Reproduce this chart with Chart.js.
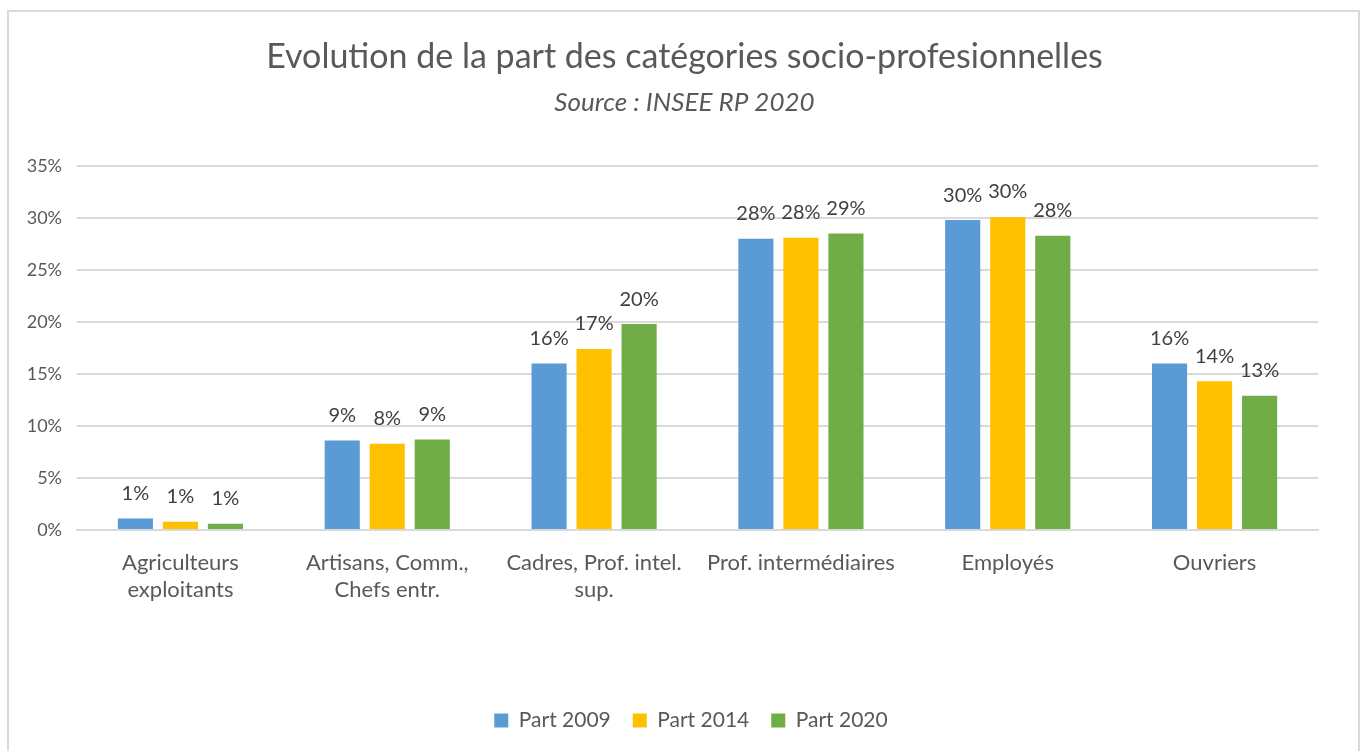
<!DOCTYPE html>
<html>
<head>
<meta charset="utf-8">
<script src="https://cdn.jsdelivr.net/npm/chart.js@4/dist/chart.umd.min.js"></script>
<style>
  body { margin: 0; background: #fff; }
  #wrap { position: relative; width: 1369px; height: 751px; overflow: hidden; }
  #frame { position: absolute; left: 7px; top: 10px; width: 1353px; height: 760px; border: 2px solid #d9d9d9; box-sizing: border-box; }
  #chart { position: absolute; left: 0; top: 0; }
</style>
</head>
<body>
<div id="wrap">
  <div id="frame"></div>
  <canvas id="chart" width="1369" height="751"></canvas>
</div>
<script>
var categories = [
  ["Agriculteurs", "exploitants"],
  ["Artisans, Comm.,", "Chefs entr."],
  ["Cadres, Prof. intel.", "sup."],
  "Prof. intermédiaires",
  "Employés",
  "Ouvriers"
];
var part2009 = [1.1, 8.6, 16.0, 28.0, 29.8, 16.0];
var part2014 = [0.8, 8.3, 17.4, 28.1, 30.1, 14.3];
var part2020 = [0.6, 8.7, 19.8, 28.5, 28.3, 12.9];
var yTicks = [0, 5, 10, 15, 20, 25, 30, 35];

var chartTitle = 'Evolution de la part des catégories socio-profesionnelles';
var chartSubtitle = 'Source : INSEE RP 2020';

var FONT = "Lato, 'Open Sans', sans-serif";

// labels above the bars, like Excel data labels
var barLabels = {
  id: 'barLabels',
  afterDatasetsDraw: function(chart) {
    var ctx = chart.ctx;
    ctx.save();
    ctx.font = '20px ' + FONT;
    ctx.fillStyle = '#404040';
    ctx.textAlign = 'center';
    ctx.textBaseline = 'middle';
    chart.data.datasets.forEach(function(ds, i) {
      chart.getDatasetMeta(i).data.forEach(function(bar, j) {
        ctx.fillText(Math.round(ds.data[j]) + '%', bar.x, bar.y - 25);
      });
    });
    ctx.restore();
  }
};

// title + subtitle centred on the whole frame (not on the plot)
var frameTitle = {
  id: 'frameTitle',
  afterLayout: function(chart) {
    // legend is centred on the frame too in the original
    if (chart.legend) {
      chart.legend.left += 22;
      chart.legend.right += 22;
    }
  },
  afterDraw: function(chart) {
    var ctx = chart.ctx;
    var cx = chart.width / 2;
    ctx.save();
    ctx.fillStyle = '#595959';
    ctx.textAlign = 'center';
    ctx.textBaseline = 'middle';
    ctx.font = '34px ' + FONT;
    ctx.fillText(chartTitle, cx, 57);
    ctx.font = 'italic 26px ' + FONT;
    ctx.fillText(chartSubtitle, cx, 103);
    ctx.restore();
  }
};

var ctx = document.getElementById('chart').getContext('2d');
new Chart(ctx, {
  type: 'bar',
  data: {
    labels: categories,
    datasets: [
      { label: 'Part 2009', data: part2009, backgroundColor: '#5b9bd5' },
      { label: 'Part 2014', data: part2014, backgroundColor: '#ffc000' },
      { label: 'Part 2020', data: part2020, backgroundColor: '#70ad47' }
    ]
  },
  options: {
    responsive: false,
    animation: false,
    layout: { padding: { top: 166, left: 20, right: 51, bottom: 10 } },
    datasets: {
      bar: { categoryPercentage: 0.653, barPercentage: 0.78 }
    },
    scales: {
      x: {
        grid: { display: false, drawTicks: false },
        border: { color: '#d9d9d9', width: 2 },
        ticks: { color: '#595959', font: { family: FONT, size: 22 }, padding: 20, maxRotation: 0, autoSkip: false },
        afterFit: function(scale) { scale.height = 158; }
      },
      y: {
        min: 0,
        max: 35,
        afterBuildTicks: function(scale) {
          scale.ticks = yTicks.map(function(v) { return { value: v }; });
        },
        grid: { color: '#d9d9d9', lineWidth: 2, drawTicks: false },
        border: { display: false },
        ticks: {
          color: '#595959',
          font: { family: FONT, size: 18 },
          padding: 15,
          callback: function(v) { return v + '%'; }
        },
        afterFit: function(scale) { scale.width = 57; }
      }
    },
    plugins: {
      legend: {
        position: 'bottom',
        labels: {
          color: '#595959',
          font: { family: FONT, size: 21 },
          boxWidth: 14,
          boxHeight: 14,
          padding: 22
        }
      },
      tooltip: { enabled: false }
    }
  },
  plugins: [barLabels, frameTitle]
});
</script>
</body>
</html>
